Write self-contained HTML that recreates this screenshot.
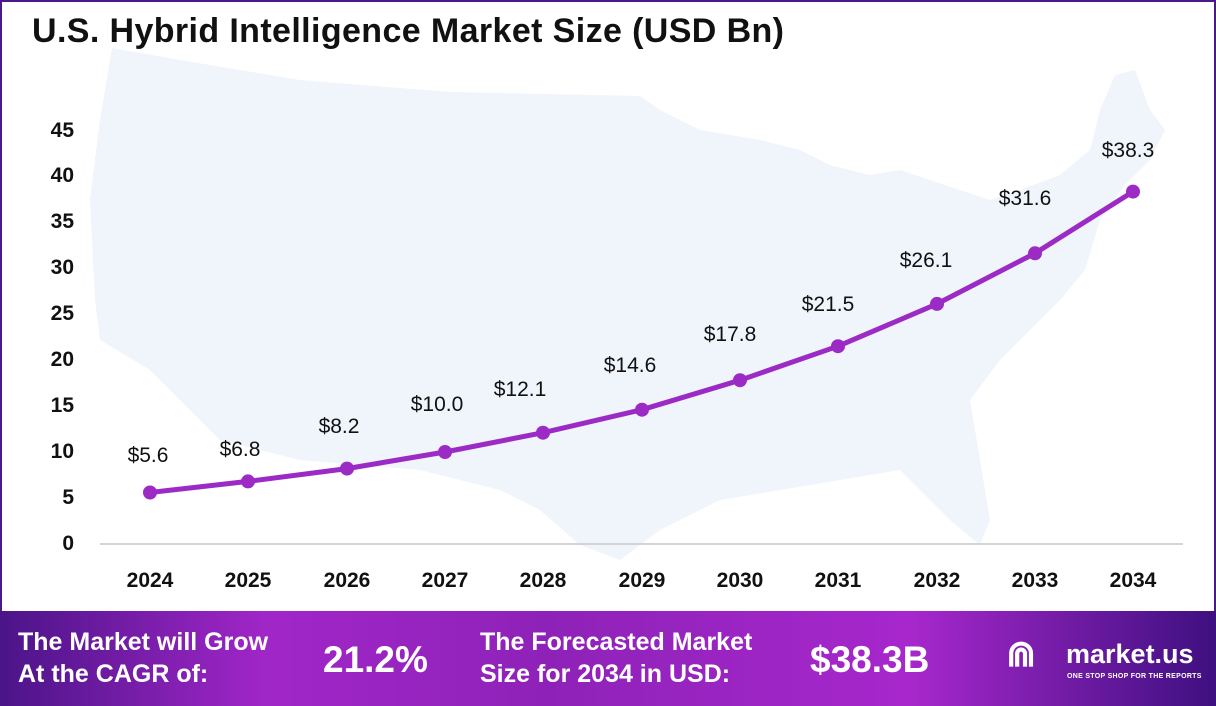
<!DOCTYPE html>
<html><head><meta charset="utf-8"><style>
html,body{margin:0;padding:0}
body{width:1216px;height:706px;position:relative;overflow:hidden;background:#fff;font-family:"Liberation Sans",sans-serif}
.frame{position:absolute;left:0;top:0;width:1212px;height:702px;border:2px solid #4a1a8a}
.banner{position:absolute;left:0;top:611px;width:1216px;height:95px;background:linear-gradient(90deg,#4b1488 0%,#a126c8 22%,#8e22b8 45%,#a727cc 75%,#3e1080 100%);color:#fff;font-weight:bold}
.banner div{position:absolute}
</style></head><body>
<div class="frame"></div>
<svg width="1216" height="706" style="position:absolute;left:0;top:0">
<polygon fill="#f0f4fb" points="112,48 180,60 300,80 450,92 640,96 660,110 700,130 760,140 800,150 830,165 870,175 900,170 930,180 960,190 990,200 1020,190 1060,175 1090,150 1100,110 1115,75 1135,70 1150,110 1165,130 1150,160 1125,185 1100,220 1085,270 1060,300 1030,330 1000,360 970,400 980,460 990,520 980,545 950,520 900,470 840,480 780,490 720,500 660,530 620,560 580,545 540,510 500,490 420,470 300,460 220,440 180,400 150,370 100,340 95,300 90,200 100,120"/>
<line x1="100" y1="544" x2="1183" y2="544" stroke="#d4d4d4" stroke-width="2"/>
<g font-family="Liberation Sans,sans-serif" font-weight="bold" font-size="21" fill="#111" text-anchor="end">
<text x="74" y="137">45</text><text x="74" y="182">40</text><text x="74" y="228">35</text><text x="74" y="274">30</text><text x="74" y="320">25</text><text x="74" y="366">20</text><text x="74" y="412">15</text><text x="74" y="458">10</text><text x="74" y="504">5</text><text x="74" y="550">0</text>
</g>
<g font-family="Liberation Sans,sans-serif" font-weight="bold" font-size="21" fill="#111" text-anchor="middle">
<text x="150" y="587">2024</text><text x="248" y="587">2025</text><text x="347" y="587">2026</text><text x="445" y="587">2027</text><text x="543" y="587">2028</text><text x="642" y="587">2029</text><text x="740" y="587">2030</text><text x="838" y="587">2031</text><text x="937" y="587">2032</text><text x="1035" y="587">2033</text><text x="1133" y="587">2034</text>
</g>
<polyline fill="none" stroke="#9b2bc4" stroke-width="5" stroke-linejoin="round" points="150,492.5 248,481.4 347,468.6 445,452 543,432.7 642,409.7 740,380.2 838,346.2 937,303.9 1035,253.3 1133,191.6"/>
<g fill="#9b2bc4">
<circle cx="150" cy="492.5" r="7"/><circle cx="248" cy="481.4" r="7"/><circle cx="347" cy="468.6" r="7"/><circle cx="445" cy="452" r="7"/><circle cx="543" cy="432.7" r="7"/><circle cx="642" cy="409.7" r="7"/><circle cx="740" cy="380.2" r="7"/><circle cx="838" cy="346.2" r="7"/><circle cx="937" cy="303.9" r="7"/><circle cx="1035" cy="253.3" r="7"/><circle cx="1133" cy="191.6" r="7"/>
</g>
<g font-family="Liberation Sans,sans-serif" font-size="21" fill="#111" text-anchor="middle">
<text x="148" y="462">$5.6</text><text x="240" y="456">$6.8</text><text x="339" y="433">$8.2</text><text x="437" y="411">$10.0</text><text x="520" y="396">$12.1</text><text x="630" y="372">$14.6</text><text x="730" y="341">$17.8</text><text x="828" y="311">$21.5</text><text x="926" y="267">$26.1</text><text x="1025" y="205">$31.6</text><text x="1128" y="157">$38.3</text>
</g>
<text x="32" y="42" font-family="Liberation Sans,sans-serif" font-weight="bold" font-size="34" fill="#111" textLength="752">U.S. Hybrid Intelligence Market Size (USD Bn)</text>
</svg>
<div class="banner">
<div style="left:18px;top:15px;font-size:25px;line-height:32px">The Market will Grow<br>At the CAGR of:</div>
<div style="left:323px;top:28px;font-size:37px">21.2%</div>
<div style="left:480px;top:15px;font-size:25px;line-height:32px">The Forecasted Market<br>Size for 2034 in USD:</div>
<div style="left:810px;top:28px;font-size:37px">$38.3B</div>
<div style="left:1006px;top:22px;font-size:36px">⋒</div>
<div style="left:1066px;top:28px;font-size:27px">market.us</div>
<div style="left:1067px;top:62px;font-size:7px;letter-spacing:0.3px">ONE STOP SHOP FOR THE REPORTS</div>
</div>
</body></html>
